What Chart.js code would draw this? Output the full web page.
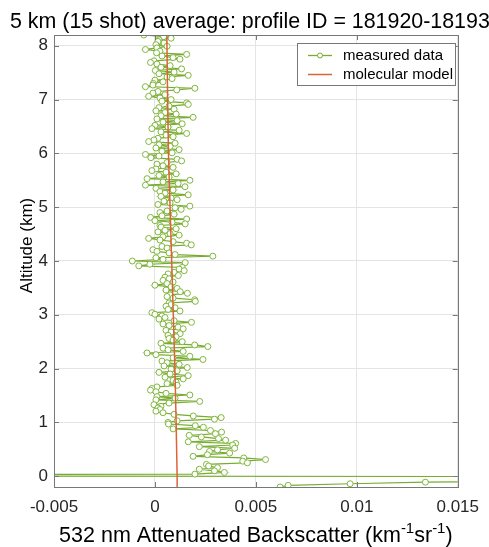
<!DOCTYPE html>
<html>
<head>
<meta charset="utf-8">
<script src="https://cdn.jsdelivr.net/npm/chart.js@4.4.0/dist/chart.umd.min.js"></script>
<style>
  html, body { margin: 0; padding: 0; background: #fff; }
</style>
</head>
<body>
<canvas id="Chart_1" width="489" height="547"></canvas>
<script>
// range bins: 30 m from 8.2 km down to -0.2 km
const topBinKm = 8.2;
const binKm = 0.03;

// 532 nm attenuated backscatter per bin (km^-1 sr^-1), top bin first
let backscatter = [
  -0.00055, 0.00043, 0.00080, 0.00020, 0.00015, 0.00045, 0.00005, 0.00060, 0.00010, -0.00047,
  0.00025, 0.00008, 0.00157, 0.00035, 0.00090, 0.00124, -0.00005, -0.00022, 0.00010, 0.00075,
  0.00030, 0.00132, 0.00002, 0.00095, 0.00020, 0.00165, 0.00060, 0.00085, 0.00000, 0.00040,
  -0.00008, -0.00010, -0.00047,
  0.00198, 0.00108, 0.00015, -0.00010, 0.00050, -0.00031, 0.00025, 0.00080, 0.00035, 0.00157,
  0.00165, 0.00070, 0.00020, 0.00095, 0.00005, 0.00050, 0.00105, 0.00030, 0.00189, 0.00010,
  0.00110, 0.00040, 0.00135, 0.00000, 0.00065, -0.00015, 0.00120, 0.00030, 0.00157, 0.00055,
  0.00090, 0.00015, -0.00005, -0.00031, 0.00100, 0.00020, 0.00075,
  0.00005, 0.00120, 0.00035, 0.00085, -0.00047, 0.00020, -0.00020, 0.00110, 0.00132, 0.00060,
  0.00010, 0.00040, 0.00090, 0.00005, -0.00015, 0.00055, 0.00105, 0.00020, 0.00070, -0.00039,
  0.00173, 0.00040, 0.00115, -0.00047, 0.00149, 0.00005, 0.00090, 0.00025, 0.00050, 0.00165,
  0.00030, 0.00080, 0.00110, 0.00045, 0.00075, 0.00015, 0.00173, 0.00100, 0.00130, 0.00060,
  0.00025, 0.00095, 0.00035, -0.00022, 0.00157, 0.00000, 0.00085, 0.00150, 0.00025, 0.00030,
  0.00105, 0.00050, 0.00015, 0.00075, 0.00120, 0.00040, -0.00031, 0.00025, 0.00090, 0.00157,
  0.00180, 0.00035, 0.00060, -0.00010, 0.00010, 0.00070, 0.00100, 0.00287, 0.00005, 0.00040,
  -0.00112, 0.00150, -0.00025, -0.00080, 0.00135, 0.00120, 0.00145, 0.00095, 0.00065, 0.00116,
  0.00050, 0.00070, 0.00040, 0.00090, 0.00060, 0.00000, 0.00080, 0.00110, 0.00055, 0.00125,
  0.00161, 0.00075, 0.00060, 0.00090, 0.00197, 0.00200, 0.00070, 0.00080, 0.00055, 0.00100,
  0.00065, 0.00124, -0.00015, 0.00000, 0.00035, 0.00050, 0.00020, 0.00095, 0.00181, 0.00040,
  0.00070, 0.00115, 0.00140, 0.00055, 0.00080, 0.00125, 0.00065, 0.00105, 0.00070, 0.00090,
  0.00135, 0.00030, 0.00197, 0.00262, 0.00040, 0.00065, 0.00140, -0.00039, 0.00005, 0.00173,
  0.00090, 0.00238, 0.00035, 0.00060, 0.00120, 0.00045, 0.00160, 0.00080, 0.00110, 0.00020,
  0.00075, 0.00165, 0.00050, 0.00140, 0.00090, 0.00105, 0.00060, 0.00110, 0.00010, -0.00015,
  -0.00022, 0.00005, 0.00055, 0.00173, 0.00010, 0.00100, 0.00005, 0.00222, 0.00070, -0.00005,
  0.00030, 0.00015, 0.00025, 0.00005, 0.00040, 0.00095, 0.00190, 0.00328, 0.00295, 0.00110,
  0.00065, 0.00067, 0.00200, 0.00240, 0.00090, 0.00275, 0.00330, 0.00300, 0.00170, 0.00230,
  0.00315, 0.00350, 0.00165, 0.00400, 0.00385, 0.00220, 0.00395, 0.00310, 0.00270, 0.00370,
  0.00260, 0.00189, 0.00440, 0.00548, 0.00435, 0.00458, 0.00255, 0.00266, 0.00310, 0.00220,
  0.00295, 0.00344, 0.00198, -0.03000, 0.06000, 0.04000, 0.02200, 0.01340, 0.00967, 0.00660,
  0.00620
];
let altitudeKm = backscatter.map((_, i) => +(topBinKm - binKm * i).toFixed(2));

// molecular model
let modelAltitudeKm = [-0.2, 0, 1, 2, 3, 4, 5, 6, 7, 8.2];
let modelBackscatter = [0.00112, 0.00110, 0.00105, 0.00099, 0.00091, 0.00083, 0.00075, 0.00067, 0.00063, 0.00059];

let xTicks = [-0.005, 0, 0.005, 0.01, 0.015];
let yTicks = [0, 1, 2, 3, 4, 5, 6, 7, 8];

let titleText = '5 km (15 shot) average: profile ID = 181920-181934';
let GREEN = 'rgb(119,172,48)';
let ORANGE = 'rgb(222,98,56)';
let INK = 'rgb(38,38,38)';
let AXIS = 'rgb(120,120,120)';
let FONT = '"Liberation Sans", Arial, sans-serif';

/** axes box, inward ticks, titles and legend */
let decorations = {
  id: 'decorations',
  afterDatasetsDraw(chart) {
    let ctx = chart.ctx, a = chart.chartArea;
    let xs = chart.scales.x, ys = chart.scales.y;
    ctx.save();
    ctx.strokeStyle = AXIS;
    ctx.lineWidth = 1;
    ctx.beginPath();
    xTicks.forEach(v => {
      let px = Math.round(xs.getPixelForValue(v)) + 0.5;
      ctx.moveTo(px, a.bottom); ctx.lineTo(px, a.bottom - 5);
      ctx.moveTo(px, a.top); ctx.lineTo(px, a.top + 5);
    });
    yTicks.forEach(v => {
      let py = Math.round(ys.getPixelForValue(v)) + 0.5;
      ctx.moveTo(a.left, py); ctx.lineTo(a.left + 5, py);
      ctx.moveTo(a.right, py); ctx.lineTo(a.right - 5, py);
    });
    ctx.stroke();
    ctx.strokeRect(Math.round(a.left) + 0.5, Math.round(a.top) + 0.5,
      Math.round(a.right - a.left), Math.round(a.bottom - a.top));
    ctx.restore();
  },
  afterDraw(chart) {
    let ctx = chart.ctx, a = chart.chartArea;
    let cx = (a.left + a.right) / 2;
    ctx.save();
    ctx.fillStyle = '#000';
    ctx.textBaseline = 'alphabetic';

    // title, centred on the axes (runs past the right edge)
    ctx.font = '21.4px ' + FONT;
    ctx.textAlign = 'center';
    ctx.fillText(titleText, cx, 28);

    // x axis title with superscripts
    let parts = [
      ['532 nm Attenuated Backscatter (km', 21.5, 0],
      ['-1', 15, -9],
      ['sr', 21.5, 0],
      ['-1', 15, -9],
      [')', 21.5, 0]
    ];
    let total = 0;
    parts.forEach(p => { ctx.font = p[1] + 'px ' + FONT; total += ctx.measureText(p[0]).width; });
    let x = cx - total / 2;
    ctx.textAlign = 'left';
    parts.forEach(p => {
      ctx.font = p[1] + 'px ' + FONT;
      ctx.fillText(p[0], x, 542 + p[2]);
      x += ctx.measureText(p[0]).width;
    });

    // y axis title
    ctx.save();
    ctx.translate(32, 245.5);
    ctx.rotate(-Math.PI / 2);
    ctx.font = '17px ' + FONT;
    ctx.textAlign = 'center';
    ctx.fillText('Altitude (km)', 0, 0);
    ctx.restore();

    // legend
    let lx = 297, ly = 43, lw = 158, lh = 42;
    ctx.fillStyle = '#fff';
    ctx.fillRect(lx, ly, lw, lh);
    ctx.strokeStyle = AXIS;
    ctx.lineWidth = 1;
    ctx.strokeRect(lx + 0.5, ly + 0.5, lw, lh);
    ctx.lineWidth = 1.3;
    ctx.strokeStyle = GREEN;
    ctx.beginPath(); ctx.moveTo(308, 55.5); ctx.lineTo(332, 55.5); ctx.stroke();
    ctx.beginPath(); ctx.arc(320, 55.5, 2.5, 0, Math.PI * 2);
    ctx.fillStyle = '#fff'; ctx.fill(); ctx.lineWidth = 1; ctx.stroke();
    ctx.strokeStyle = ORANGE; ctx.lineWidth = 1.5;
    ctx.beginPath(); ctx.moveTo(308, 74.5); ctx.lineTo(332, 74.5); ctx.stroke();
    ctx.fillStyle = '#000';
    ctx.font = '15px ' + FONT;
    ctx.textAlign = 'left';
    ctx.textBaseline = 'middle';
    ctx.fillText('measured data', 343, 55.5);
    ctx.fillText('molecular model', 343, 74.5);
    ctx.restore();
  }
};

let cxt = document.getElementById('Chart_1');
let grafico = new Chart(cxt, {
  type: 'scatter',
  data: {
    datasets: [
      {
        label: 'molecular model',
        data: modelAltitudeKm.map((h, i) => ({ x: modelBackscatter[i], y: h })),
        showLine: true,
        borderColor: ORANGE,
        borderWidth: 1.5,
        pointRadius: 0,
        order: 0
      },
      {
        label: 'measured data',
        data: altitudeKm.map((h, i) => ({ x: backscatter[i], y: h })),
        showLine: true,
        borderColor: GREEN,
        borderWidth: 1.2,
        pointRadius: 3,
        pointBorderWidth: 1,
        pointBorderColor: 'rgb(128,182,62)',
        pointBackgroundColor: '#fff',
        order: 1
      }
    ]
  },
  options: {
    responsive: false,
    animation: false,
    devicePixelRatio: 1,
    layout: { padding: { top: 35, right: 26, left: 0, bottom: 0 } },
    plugins: { legend: { display: false }, tooltip: { enabled: false }, title: { display: false } },
    scales: {
      x: {
        type: 'linear',
        min: -0.005,
        max: 0.015,
        grid: { color: 'rgb(228,228,228)', drawTicks: false },
        border: { display: false },
        ticks: {
          padding: 10,
          color: INK,
          font: { family: FONT, size: 17 },
          maxRotation: 0,
          callback: v => String(Number(v.toFixed(4)))
        },
        afterBuildTicks: s => { s.ticks = xTicks.map(v => ({ value: v })); },
        afterFit: s => { s.height = 60; }
      },
      y: {
        type: 'linear',
        min: -0.2,
        max: 8.2,
        grid: { color: 'rgb(228,228,228)', drawTicks: false },
        border: { display: false },
        ticks: {
          padding: 6,
          color: INK,
          font: { family: FONT, size: 17 },
          callback: v => String(v)
        },
        afterBuildTicks: s => { s.ticks = yTicks.map(v => ({ value: v })); },
        afterFit: s => { s.width = 54; }
      }
    }
  },
  plugins: [decorations]
});
</script>
</body>
</html>
